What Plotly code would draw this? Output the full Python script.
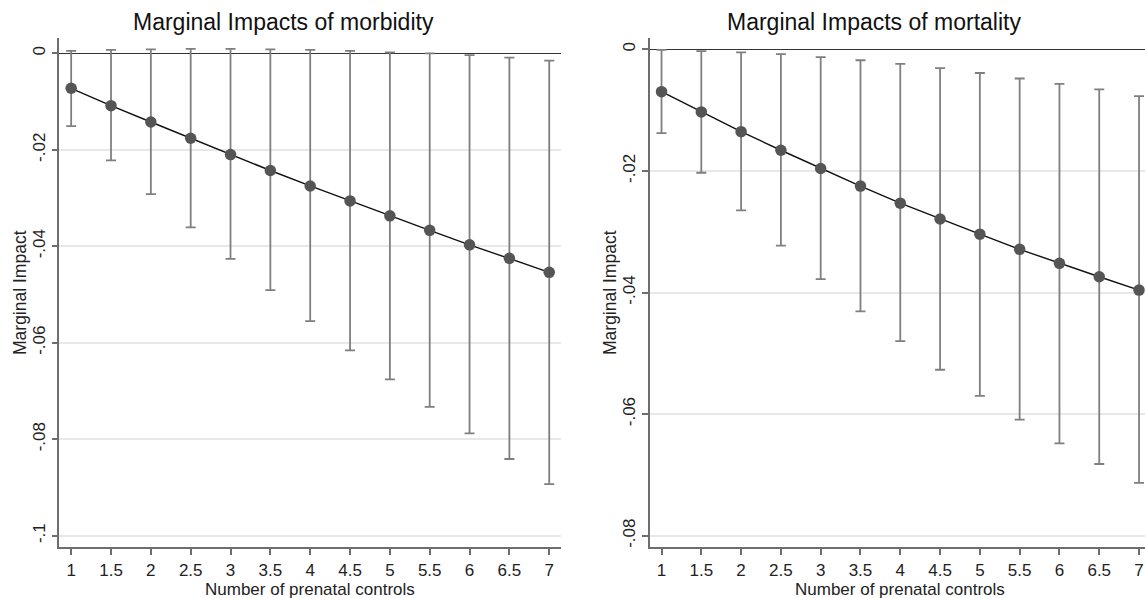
import plotly.graph_objects as go

# ---- data ----
x_vals = [1, 1.5, 2, 2.5, 3, 3.5, 4, 4.5, 5, 5.5, 6, 6.5, 7]

morb_est = [-0.00725, -0.01085, -0.01424, -0.0176, -0.0210, -0.0243, -0.0275,
            -0.0306, -0.0337, -0.0367, -0.0397, -0.0425, -0.0454]
morb_hi = [0.0005, 0.0007, 0.0008, 0.0009, 0.0009, 0.0008, 0.0007,
           0.0005, 0.0002, 0.0000, -0.0004, -0.0009, -0.0015]
morb_lo = [-0.0151, -0.0222, -0.0292, -0.0361, -0.0426, -0.0491, -0.0555,
           -0.0616, -0.0676, -0.0733, -0.0788, -0.0841, -0.0893]

mort_est = [-0.00697, -0.0103, -0.01354, -0.0166, -0.0196, -0.0225, -0.0253,
            -0.0279, -0.0304, -0.0329, -0.0352, -0.0374, -0.0396]
mort_hi = [-0.0001, -0.0003, -0.0005, -0.0008, -0.0013, -0.0018, -0.0024,
           -0.0031, -0.0039, -0.0048, -0.0057, -0.0066, -0.0077]
mort_lo = [-0.0138, -0.0203, -0.0265, -0.0323, -0.0378, -0.0431, -0.0480,
           -0.0527, -0.0570, -0.0609, -0.0648, -0.0682, -0.0713]

x_ticks = [1, 1.5, 2, 2.5, 3, 3.5, 4, 4.5, 5, 5.5, 6, 6.5, 7]
x_ticktext = ["1", "1.5", "2", "2.5", "3", "3.5", "4", "4.5", "5", "5.5", "6", "6.5", "7"]
morb_yticks = [0, -0.02, -0.04, -0.06, -0.08, -0.1]
morb_yticktext = ["0", "-.02", "-.04", "-.06", "-.08", "-.1"]
mort_yticks = [0, -0.02, -0.04, -0.06, -0.08]
mort_yticktext = ["0", "-.02", "-.04", "-.06", "-.08"]

titles = ["Marginal Impacts of morbidity", "Marginal Impacts of mortality"]
x_title = "Number of prenatal controls"
y_title = "Marginal Impact"

FONT = "Liberation Sans, Arial, sans-serif"
W, H = 1145, 598

fig = go.Figure()


def add_panel(est, hi, lo, xa, ya):
    fig.add_trace(go.Scatter(
        x=x_vals, y=est, xaxis=xa, yaxis=ya, mode="lines+markers",
        line=dict(color="#111111", width=1.4),
        marker=dict(color="#555555", size=11.5),
        error_y=dict(type="data", symmetric=False,
                     array=[h - e for h, e in zip(hi, est)],
                     arrayminus=[e - l for e, l in zip(est, lo)],
                     color="#7f7f7f", thickness=1.8, width=5),
        showlegend=False, hoverinfo="x+y"))


add_panel(morb_est, morb_hi, morb_lo, "x", "y")
add_panel(mort_est, mort_hi, mort_lo, "x2", "y2")

ydom = [(H - 547.3) / H, (H - 38) / H]
axis_common = dict(showline=True, linecolor="#6e6e6e", linewidth=1.6,
                   ticks="outside", ticklen=6, tickcolor="#6e6e6e", tickwidth=1.6,
                   tickfont=dict(family=FONT, size=17, color="#222222"))

fig.update_layout(
    width=W, height=H, margin=dict(l=0, r=0, t=0, b=0),
    paper_bgcolor="white", plot_bgcolor="white",
    xaxis=dict(domain=[59.3 / W, 560.7 / W], range=[0.851, 7.144],
               tickvals=x_ticks, ticktext=x_ticktext, showgrid=False,
               zeroline=False, anchor="y", **axis_common),
    yaxis=dict(domain=ydom, range=[-0.1024, 0.00317],
               tickvals=morb_yticks, ticktext=morb_yticktext, tickangle=-90,
               showgrid=True, gridcolor="#e8e8e8", gridwidth=1.5,
               zeroline=True, zerolinecolor="#333333", zerolinewidth=1.4,
               anchor="x", **axis_common),
    xaxis2=dict(domain=[649.5 / W, 1.0], range=[0.849, 7.075],
                tickvals=x_ticks, ticktext=x_ticktext, showgrid=False,
                zeroline=False, anchor="y2", **axis_common),
    yaxis2=dict(domain=ydom, range=[-0.0819, 0.00186],
                tickvals=mort_yticks, ticktext=mort_yticktext, tickangle=-90,
                showgrid=True, gridcolor="#e8e8e8", gridwidth=1.5,
                zeroline=True, zerolinecolor="#333333", zerolinewidth=1.4,
                anchor="x2", **axis_common),
)

ann = []
for cx, t in zip([283.6, 873.8], titles):
    ann.append(dict(text=t, x=cx / W, y=1 - 22 / H, xref="paper", yref="paper",
                    showarrow=False, xanchor="center", yanchor="middle",
                    font=dict(family=FONT, size=23, color="#111111")))
for cx in [310.0, 900.0]:
    ann.append(dict(text=x_title, x=cx / W, y=1 - 589 / H, xref="paper", yref="paper",
                    showarrow=False, xanchor="center", yanchor="middle",
                    font=dict(family=FONT, size=17, color="#222222")))
for cx in [20.0, 610.0]:
    ann.append(dict(text=y_title, x=cx / W, y=1 - 293 / H, xref="paper", yref="paper",
                    showarrow=False, xanchor="center", yanchor="middle", textangle=-90,
                    font=dict(family=FONT, size=17.5, color="#222222")))
fig.update_layout(annotations=ann)

fig.write_html("out.html", config={"displayModeBar": False},
               post_script="document.body.style.margin='0';document.body.style.overflow='hidden';")
